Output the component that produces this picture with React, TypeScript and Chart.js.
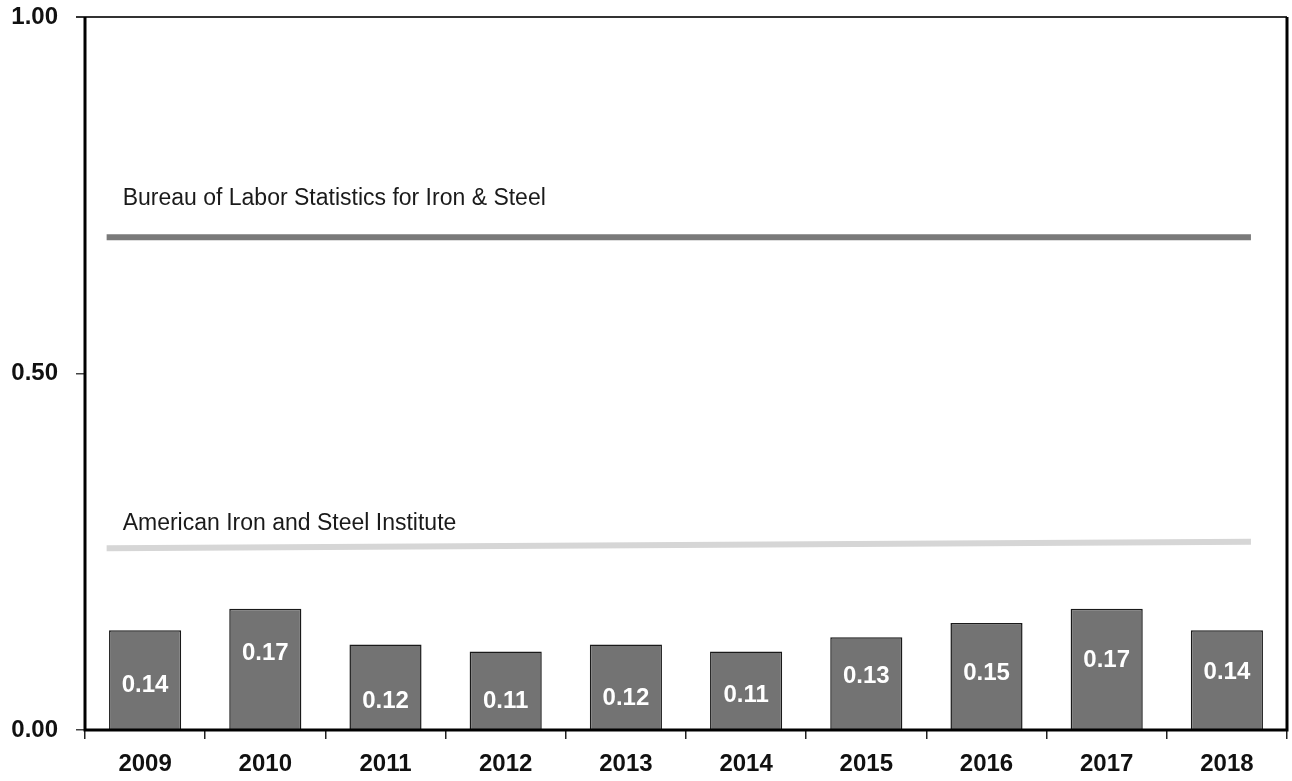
import React, { useEffect, useRef } from "react";
import { Chart, registerables } from "chart.js";

Chart.register(...registerables);

const years = ["2009", "2010", "2011", "2012", "2013", "2014", "2015", "2016", "2017", "2018"];
const intensity = [0.14, 0.17, 0.12, 0.11, 0.12, 0.11, 0.13, 0.15, 0.17, 0.14];
const valueLabelHeights = [0.062, 0.107, 0.04, 0.04, 0.045, 0.048, 0.075, 0.079, 0.098, 0.081];
const refSpan = [-0.32, 9.2];
const blsLevel = [0.691, 0.691];
const aisiLevel = [0.255, 0.264];
const refNames = ["Bureau of Labor Statistics for Iron & Steel", "American Iron and Steel Institute"];
const refNameHeights = [0.745, 0.29];
const yTicks = [0, 0.5, 1];

const FONT = '"Liberation Sans", Arial, sans-serif';

export default function App() {
  const ref = useRef<HTMLCanvasElement | null>(null);

  useEffect(() => {
    document.body.style.margin = "0";
    const canvas = ref.current;
    if (!canvas) return;

    const labelPlugin = {
      id: "labels",
      afterDatasetsDraw(chart: any) {
        const ctx = chart.ctx;
        const y = chart.scales.y;
        const meta = chart.getDatasetMeta(0);
        ctx.save();
        ctx.fillStyle = "#ffffff";
        ctx.font = `bold 24px ${FONT}`;
        ctx.textAlign = "center";
        ctx.textBaseline = "middle";
        meta.data.forEach((bar: any, i: number) => {
          ctx.fillText(intensity[i].toFixed(2), bar.x, y.getPixelForValue(valueLabelHeights[i]));
        });
        const xl = chart.scales.xLine;
        ctx.fillStyle = "#1a1a1a";
        ctx.font = `23px ${FONT}`;
        ctx.textAlign = "left";
        refNames.forEach((name, i) => {
          ctx.fillText(name, xl.getPixelForValue(refSpan[0]) + 16, y.getPixelForValue(refNameHeights[i]));
        });
        ctx.restore();
      },
      afterDraw(chart: any) {
        const { ctx, chartArea: a } = chart;
        ctx.save();
        ctx.strokeStyle = "#333333";
        ctx.lineWidth = 2;
        ctx.beginPath();
        ctx.moveTo(a.left - 9, a.top);
        ctx.lineTo(a.right, a.top);
        ctx.stroke();
        ctx.strokeStyle = "#000000";
        ctx.lineWidth = 3;
        ctx.beginPath();
        ctx.moveTo(a.left, a.top);
        ctx.lineTo(a.left, a.bottom);
        ctx.lineTo(a.right, a.bottom);
        ctx.lineTo(a.right, a.top);
        ctx.stroke();
        ctx.restore();
      },
    };

    const chart = new Chart(canvas, {
      type: "bar",
      data: {
        labels: years,
        datasets: [
          {
            type: "bar",
            data: intensity,
            backgroundColor: "#737373",
            borderColor: "#1a1a1a",
            borderWidth: 1.5,
            barPercentage: 0.6,
            categoryPercentage: 1,
            grouped: false,
            xAxisID: "x",
          } as any,
          {
            type: "line",
            data: refSpan.map((x, i) => ({ x, y: blsLevel[i] })),
            borderColor: "#7a7a7a",
            borderWidth: 6,
            pointRadius: 0,
            xAxisID: "xLine",
          } as any,
          {
            type: "line",
            data: refSpan.map((x, i) => ({ x, y: aisiLevel[i] })),
            borderColor: "#d6d6d6",
            borderWidth: 6,
            pointRadius: 0,
            xAxisID: "xLine",
          } as any,
        ],
      },
      options: {
        responsive: false,
        animation: false,
        layout: { padding: { top: 17, right: 5, left: 0, bottom: 0 } },
        plugins: { legend: { display: false }, tooltip: { enabled: false } },
        scales: {
          x: {
            type: "category",
            offset: true,
            grid: {
              offset: true,
              drawOnChartArea: false,
              drawTicks: true,
              tickLength: 9,
              color: "#222",
              lineWidth: 1.5,
            },
            border: { display: false },
            ticks: {
              color: "#111",
              font: { family: FONT, size: 24, weight: "bold" },
              padding: 11,
              maxRotation: 0,
            },
            afterFit(s: any) {
              s.height = 51;
            },
          },
          xLine: {
            type: "linear",
            display: false,
            offset: false,
            grid: { offset: false },
            min: -0.5,
            max: 9.5,
          },
          y: {
            min: 0,
            max: 1,
            afterBuildTicks(s: any) {
              s.ticks = yTicks.map((v) => ({ value: v }));
            },
            grid: {
              drawOnChartArea: false,
              tickLength: 9,
              color: "#444",
              lineWidth: 1.5,
            },
            border: { display: false },
            ticks: {
              color: "#111",
              font: { family: FONT, size: 24, weight: "bold" },
              padding: 18,
              callback: (v: any) => Number(v).toFixed(2),
            },
            afterFit(s: any) {
              s.width = 85;
              s.paddingTop = 0;
              s.paddingBottom = 0;
            },
          },
        },
      } as any,
      plugins: [labelPlugin],
    });
    return () => chart.destroy();
  }, []);

  return (
    <div style={{ position: "absolute", left: 0, top: 0, width: 1292, height: 781, background: "#fff" }}>
      <canvas ref={ref} width={1292} height={781} style={{ display: "block" }} />
    </div>
  );
}
